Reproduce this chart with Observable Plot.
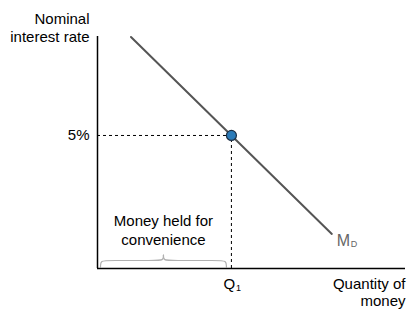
<!DOCTYPE html>
<html>
<head>
<meta charset="utf-8">
<script src="https://cdn.jsdelivr.net/npm/d3@7"></script>
<script src="https://cdn.jsdelivr.net/npm/@observablehq/plot@0.6"></script>
<style>
  html, body { margin: 0; padding: 0; background: #fff; }
</style>
</head>
<body>
<div id="chart"></div>
<script>
// Money demand curve (x = quantity of money, y = nominal interest rate)
const demandX = [1, 7];
const demandY = [8.7, 1.3];
// Equilibrium point
const q1 = 4;
const rate = 5;
const rateLabel = "5%";
const qLabel = "Q";
const qSub = "1";
const curveLabel = "M";
const curveSub = "D";
const yTitle = "Nominal\ninterest rate";
const xTitle = "Quantity of\nmoney";
const braceText = "Money held for\nconvenience";
// Brace extent (quantity range held for convenience)
const braceStart = 0.09;
const braceEnd = 3.85;

const demand = demandX.map((x, i) => ({x, y: demandY[i]}));
const mid = (braceStart + braceEnd) / 2;
const yb = 0.06, yh = 0.3, yt = 0.5;
const braceLeft = [
  [braceStart, yb], [braceStart, yh], [braceStart + 0.25, yh],
  [mid - 0.25, yh], [mid, yh], [mid, yt]
];
const braceRight = [
  [mid, yt], [mid, yh], [mid + 0.25, yh],
  [braceEnd - 0.25, yh], [braceEnd, yh], [braceEnd, yb]
];

const plot = Plot.plot({
  width: 416,
  height: 318,
  marginLeft: 97,
  marginRight: 11,
  marginTop: 36,
  marginBottom: 50,
  x: {domain: [0, 9.2], axis: null},
  y: {domain: [0, 8.72], axis: null},
  style: {fontFamily: "'Liberation Sans', Arial, sans-serif", fontSize: "15px", background: "#fff", overflow: "visible"},
  marks: [
    // dashed guides
    Plot.ruleY([rate], {x1: 0, x2: q1, stroke: "#000", strokeWidth: 1, strokeDasharray: "3,3"}),
    Plot.ruleX([q1], {y1: 0, y2: rate, stroke: "#000", strokeWidth: 1, strokeDasharray: "3,3"}),
    // brace
    Plot.line(braceLeft, {x: d => d[0], y: d => d[1], curve: "basis", stroke: "#b0b0b0", strokeWidth: 1.2}),
    Plot.line(braceRight, {x: d => d[0], y: d => d[1], curve: "basis", stroke: "#b0b0b0", strokeWidth: 1.2}),
    Plot.text([braceText], {x: mid, y: 1.48, text: d => d, fill: "#000", lineHeight: 1.27, fontSize: 15}),
    // axes
    Plot.ruleX([0], {stroke: "#000", strokeWidth: 1.5}),
    Plot.ruleY([0], {stroke: "#000", strokeWidth: 1.5}),
    // demand curve
    Plot.line(demand, {x: "x", y: "y", stroke: "#555", strokeWidth: 2}),
    Plot.dot([{x: q1, y: rate}], {x: "x", y: "y", r: 5, fill: "#2b7bb9", stroke: "#1b2f45", strokeWidth: 1.2}),
    // labels
    Plot.text([rateLabel], {x: 0, y: rate, text: d => d, textAnchor: "end", dx: -8, fill: "#000", fontSize: 15}),
    Plot.text([yTitle], {x: 0, y: 9.05, text: d => d, textAnchor: "end", dx: -8, lineHeight: 1.2, fill: "#000", fontSize: 15}),
    Plot.text([xTitle], {x: 9.2, y: -0.9, text: d => d, textAnchor: "end", lineHeight: 1.1, fill: "#000", fontSize: 15}),
    Plot.text([qLabel], {x: q1, y: -0.6, text: d => d, dx: -2, fill: "#000", fontSize: 15}),
    Plot.text([qSub], {x: q1, y: -0.6, text: d => d, dx: 7, dy: 4, fontSize: 9, fill: "#000"}),
    Plot.text([curveLabel], {x: demandX[1], y: 1.05, text: d => d, textAnchor: "start", dx: 5, fill: "#666", fontSize: 16}),
    Plot.text([curveSub], {x: demandX[1], y: 1.05, text: d => d, textAnchor: "start", dx: 19, dy: 4, fill: "#666", fontSize: 9})
  ]
});
document.getElementById("chart").appendChild(plot);
</script>
</body>
</html>
